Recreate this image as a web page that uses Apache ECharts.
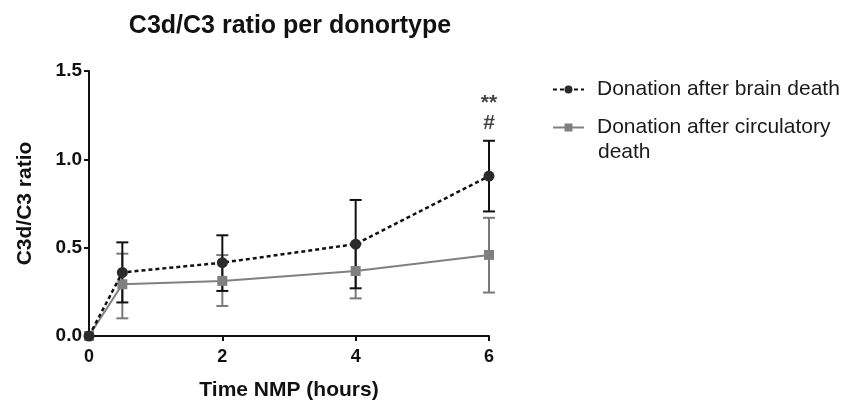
<!DOCTYPE html>
<html>
<head>
<meta charset="utf-8">
<script src="https://cdn.jsdelivr.net/npm/echarts@6/dist/echarts.min.js"></script>
<style>html,body{margin:0;padding:0;background:#fff}#c{width:846px;height:406px}</style>
</head>
<body>
<div id="c"></div>
<script>
const timePoints = [0, 0.5, 2, 4, 6];
const dbdMean = [0, 0.36, 0.415, 0.52, 0.905];
const dbdLow  = [0, 0.19, 0.255, 0.27, 0.705];
const dbdHigh = [0, 0.53, 0.57, 0.77, 1.105];
const dcdMean = [0, 0.293, 0.312, 0.368, 0.459];
const dcdLow  = [0, 0.10, 0.17, 0.213, 0.246];
const dcdHigh = [0, 0.466, 0.458, 0.523, 0.669];
const seriesNames = ['Donation after brain death', 'Donation after circulatory death'];
const legendLines = ['Donation after circulatory', 'death'];
const annotations = [[6, 1.32, '**'], [6, 1.205, '#']];

const FONT = 'Liberation Sans, Arial, sans-serif';

function errData(low, high) {
  return timePoints.map((t, i) => [t, low[i], high[i]]).filter(d => d[2] - d[1] > 0);
}
function errSeries(name, low, high, color) {
  return {
    type: 'custom',
    name: name + ' err',
    data: errData(low, high),
    z: 1,
    renderItem: function (params, api) {
      const x = api.value(0);
      const lo = api.coord([x, api.value(1)]);
      const hi = api.coord([x, api.value(2)]);
      const w = 6;
      const st = { stroke: color, lineWidth: 2 };
      return {
        type: 'group',
        children: [
          { type: 'line', shape: { x1: lo[0], y1: lo[1], x2: hi[0], y2: hi[1] }, style: st },
          { type: 'line', shape: { x1: lo[0] - w, y1: lo[1], x2: lo[0] + w, y2: lo[1] }, style: st },
          { type: 'line', shape: { x1: hi[0] - w, y1: hi[1], x2: hi[0] + w, y2: hi[1] }, style: st }
        ]
      };
    }
  };
}

const chart = echarts.init(document.getElementById('c'));
chart.setOption({
  animation: false,
  backgroundColor: '#fff',
  textStyle: { fontFamily: FONT },
  title: {
    text: 'C3d/C3 ratio per donortype',
    left: 285, top: 9, textAlign: 'center',
    textStyle: { fontFamily: FONT, fontSize: 25, fontWeight: 'bold', color: '#111' }
  },
  grid: { left: 89, right: 357, top: 71, bottom: 69, containLabel: false },
  legend: {
    data: seriesNames,
    orient: 'vertical',
    left: 552, top: 77, padding: 0,
    itemWidth: 31, itemHeight: 10, itemGap: 13,
    textStyle: { fontFamily: FONT, fontSize: 21, color: '#1a1a1a', lineHeight: 25, padding: [0, 0, 0, 8] },
    formatter: function (n) { return n === seriesNames[1] ? legendLines[0] : n; }
  },
  graphic: [{
    type: 'text', left: 598, top: 142,
    style: { text: legendLines[1], fontFamily: FONT, fontSize: 21, fill: '#1a1a1a' }
  }],
  xAxis: {
    type: 'value', min: 0, max: 6, interval: 2,
    name: 'Time NMP (hours)', nameLocation: 'middle', nameGap: 44,
    nameTextStyle: { fontFamily: FONT, fontSize: 21, fontWeight: 'bold', color: '#111' },
    axisLine: { lineStyle: { color: '#111', width: 2 } },
    axisTick: { show: true, length: 5, lineStyle: { color: '#111', width: 2 } },
    axisLabel: { fontFamily: FONT, fontSize: 18, fontWeight: 'bold', color: '#111', margin: 12 },
    splitLine: { show: false }
  },
  yAxis: {
    type: 'value', min: 0, max: 1.5, interval: 0.5,
    name: 'C3d/C3 ratio', nameLocation: 'middle', nameGap: 53,
    nameTextStyle: { fontFamily: FONT, fontSize: 21, fontWeight: 'bold', color: '#111' },
    axisLine: { show: true, lineStyle: { color: '#111', width: 2 } },
    axisTick: { show: true, length: 5, lineStyle: { color: '#111', width: 2 } },
    axisLabel: { fontFamily: FONT, fontSize: 19, fontWeight: 'bold', color: '#111', margin: 7,
      formatter: v => v.toFixed(1) },
    splitLine: { show: false }
  },
  series: [
    errSeries(seriesNames[1], dcdLow, dcdHigh, '#7a7a7a'),
    errSeries(seriesNames[0], dbdLow, dbdHigh, '#111'),
    {
      name: seriesNames[1], type: 'line', z: 2,
      data: timePoints.map((t, i) => [t, dcdMean[i]]),
      symbol: 'rect', symbolSize: 10,
      itemStyle: { color: '#808080' },
      lineStyle: { color: '#808080', width: 2, type: 'solid' }
    },
    {
      name: seriesNames[0], type: 'line', z: 3,
      data: timePoints.map((t, i) => [t, dbdMean[i]]),
      symbol: 'circle', symbolSize: 11,
      itemStyle: { color: '#2b2b2b' },
      lineStyle: { color: '#111', width: 2.5, type: [4, 3] }
    },
    {
      name: 'annot', type: 'scatter', symbolSize: 0,
      data: annotations.map(a => ({ value: [a[0], a[1]], label: { formatter: a[2] } })),
      label: { show: true, position: 'inside', fontFamily: FONT, fontSize: 21, fontWeight: 'bold', color: '#111' },
      silent: true
    }
  ]
});
</script>
</body>
</html>
